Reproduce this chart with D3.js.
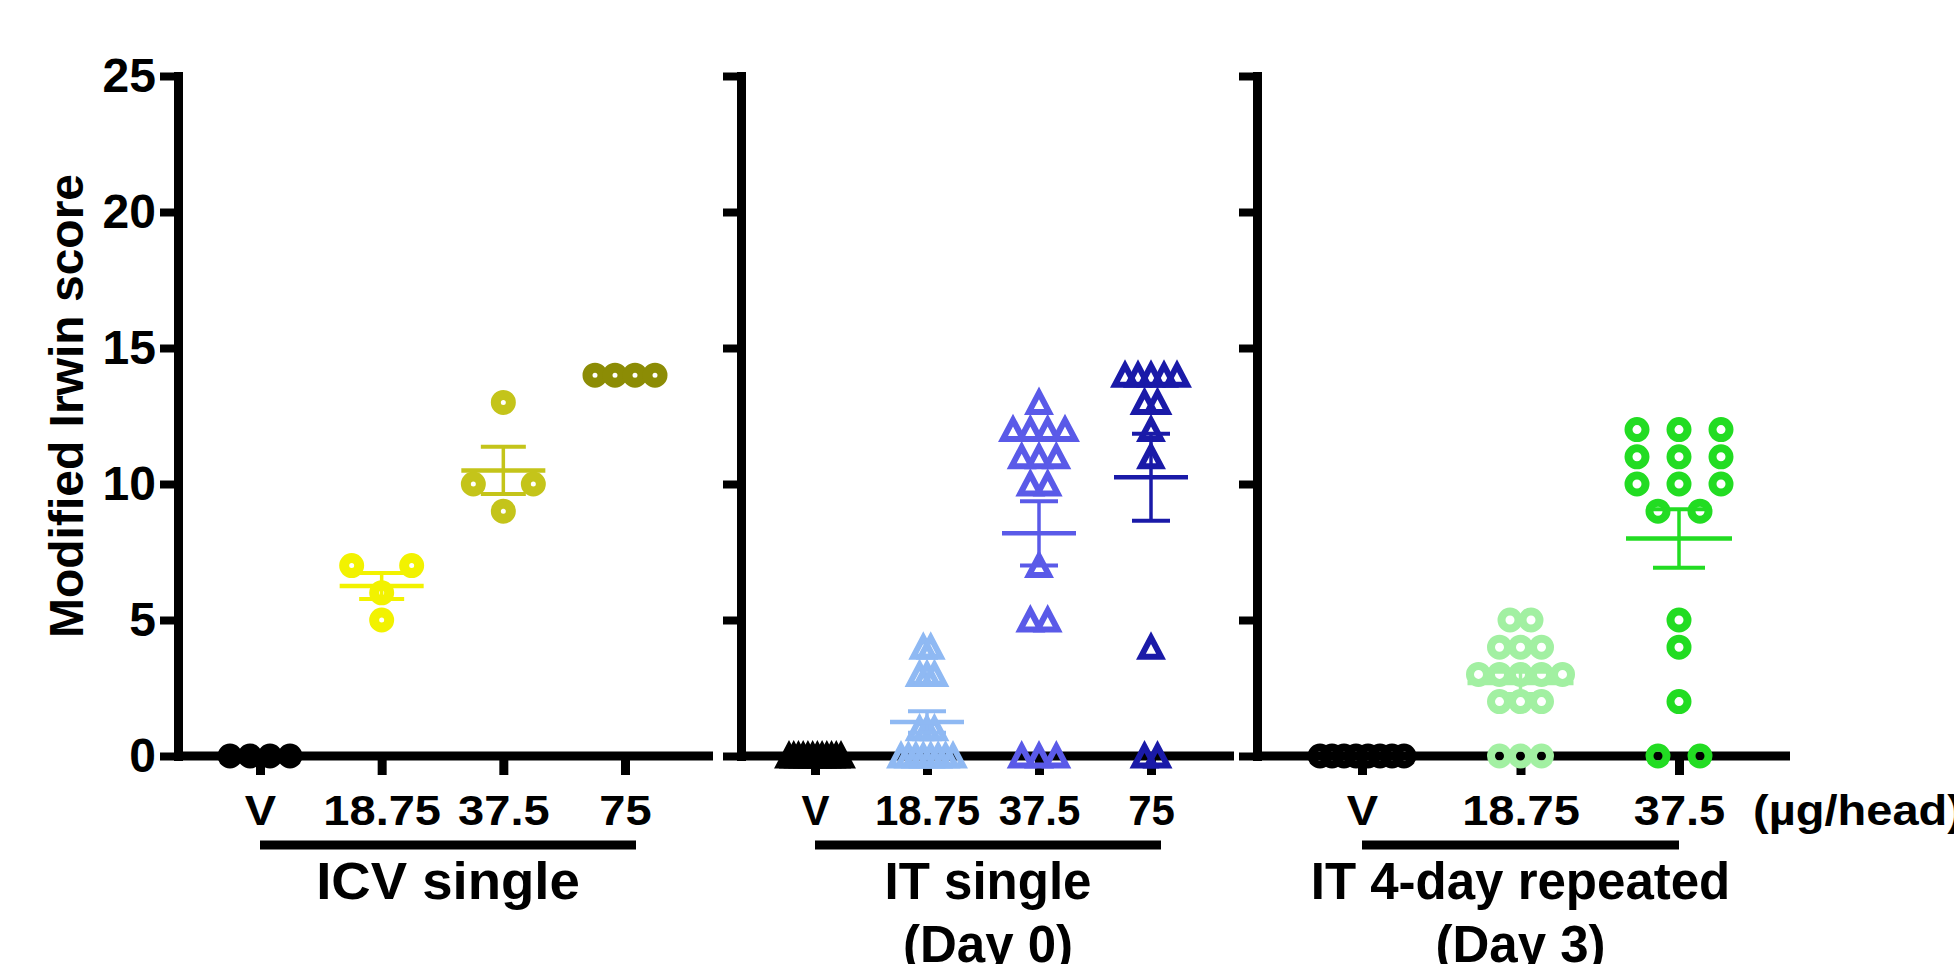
<!DOCTYPE html>
<html><head><meta charset="utf-8">
<script src="https://cdn.jsdelivr.net/npm/d3@7"></script>
<style>
html,body{margin:0;padding:0;background:#fff;}
svg{display:block;}
text{font-family:"Liberation Sans",Arial,Helvetica,sans-serif;font-weight:bold;fill:#000;}
</style>
</head><body>
<svg id="chart" width="1954" height="964"></svg>
<script>
// ---------- data ----------
const yTickValues = [0, 5, 10, 15, 20, 25];
const yTitle = "Modified Irwin score";
const unitLabel = "(µg/head)";

const icvCategories = ["V", "18.75", "37.5", "75"];
const icvV    = [0, 0, 0, 0];
const icv1875 = [7, 7, 6, 5];
const icv375  = [13, 10, 10, 9];
const icv75   = [14, 14, 14, 14];
const icvTitle = ["ICV single"];

const itCategories = ["V", "18.75", "37.5", "75"];
const itV    = [0, 0, 0, 0, 0, 0, 0, 0, 0, 0, 0, 0];
const it1875 = [4, 4, 3, 3, 3, 1, 1, 1, 0, 0, 0, 0, 0, 0, 0, 0];
const it375  = [13, 12, 12, 12, 12, 11, 11, 11, 10, 10, 7, 5, 5, 0, 0, 0];
const it75   = [14, 14, 14, 14, 14, 13, 13, 12, 11, 4, 0, 0];
const itTitle = ["IT single", "(Day 0)"];

const repCategories = ["V", "18.75", "37.5"];
const repV    = [0, 0, 0, 0, 0, 0, 0, 0];
const rep1875 = [5, 5, 4, 4, 4, 3, 3, 3, 3, 3, 2, 2, 2, 0, 0, 0];
const rep375  = [12, 12, 12, 11, 11, 11, 10, 10, 10, 9, 9, 5, 4, 2, 0, 0];
const repTitle = ["IT 4-day repeated", "(Day 3)"];

// ---------- layout / style ----------
const svg = d3.select("#chart");
svg.append("rect").attr("width", 1954).attr("height", 964).attr("fill", "#fff");

const y = d3.scaleLinear().domain([0, 25]).range([756, 76]);
const AXW = 9;
const FONT = '"Liberation Sans",Arial,Helvetica,sans-serif';

const panels = [
  { cats: icvCategories, groups: [icvV, icv1875, icv375, icv75], title: icvTitle,
    colors: ["#000000", "#f2f200", "#c4c41a", "#8c8c05"], shape: "circle", r: 7.5, sw: 10,
    yAxisX: 178, axisEnd: 713, xr: [260, 625], maxSpan: 60, sMax: 60,
    meanW: 84, capW: 45, barExt: 11, yLabels: true, tickStretch: 1.12, titleStretch: 1.07 },
  { cats: itCategories, groups: [itV, it1875, it375, it75], title: itTitle,
    colors: ["#000000", "#8fb9f3", "#5a5ae8", "#1a1aa8"], shape: "triangle", r: 0, sw: 6,
    yAxisX: 741, axisEnd: 1234, xr: [815, 1151], maxSpan: 52, sMax: 18,
    meanW: 74, capW: 38, barExt: 10, yLabels: false, tickStretch: 1.0, titleStretch: 1.0 },
  { cats: repCategories, groups: [repV, rep1875, rep375], title: repTitle,
    colors: ["#000000", "#a2f0a2", "#22dc22"], shape: "circle", r: 8.5, sw: 8,
    yAxisX: 1257, axisEnd: 1790, xr: [1362, 1679], maxSpan: 84, sMax: 43,
    meanW: 106, capW: 52, barExt: 0, yLabels: false, tickStretch: 1.12, titleStretch: 1.0 }
];

function arrange(vals, maxSpan, sMax) {
  const rows = d3.group(vals, v => v);
  const kmax = d3.max(Array.from(rows.values(), r => r.length));
  const s = kmax > 1 ? Math.min(sMax, maxSpan / (kmax - 1)) : 0;
  const pts = [];
  for (const [v, arr] of rows) {
    const k = arr.length;
    arr.forEach((_, i) => pts.push({ v: v, dx: (i - (k - 1) / 2) * s }));
  }
  return pts;
}

const triPath = (() => {
  const w = 20, h = 19;
  return `M0,${-h / 2}L${w / 2},${h / 2}L${-w / 2},${h / 2}Z`;
})();

panels.forEach(p => {
  const g = svg.append("g");
  const x = d3.scalePoint().domain(p.cats).range(p.xr);

  // y axis
  const ya = d3.axisLeft(y).tickValues(yTickValues).tickSize(18).tickSizeOuter(0)
    .tickPadding(4).tickFormat(p.yLabels ? d3.format("d") : () => "");
  const yg = g.append("g").attr("transform", `translate(${p.yAxisX},0)`).call(ya);
  yg.select(".domain").attr("stroke", "#000").attr("stroke-width", AXW).attr("stroke-linecap", "square");
  yg.selectAll(".tick line").attr("stroke", "#000").attr("stroke-width", 8);
  yg.selectAll(".tick text").attr("font-size", 48).attr("fill", "#000")
    .style("font-family", FONT).style("font-weight", "bold");

  // x axis baseline
  g.append("line").attr("x1", p.yAxisX).attr("x2", p.axisEnd)
    .attr("y1", y(0)).attr("y2", y(0)).attr("stroke", "#000").attr("stroke-width", AXW);

  // x axis ticks + labels
  const xa = d3.axisBottom(x).tickSize(19).tickSizeOuter(0).tickPadding(20);
  const xg = g.append("g").attr("transform", `translate(0,${y(0)})`).call(xa);
  xg.select(".domain").remove();
  xg.selectAll(".tick line").attr("stroke", "#000").attr("stroke-width", AXW);
  xg.selectAll(".tick text").attr("font-size", 42).attr("fill", "#000")
    .attr("transform", `scale(${p.tickStretch},1)`)
    .style("font-family", FONT).style("font-weight", "bold");

  // points
  p.groups.forEach((vals, gi) => {
    const cx = x(p.cats[gi]);
    const col = p.colors[gi];
    const pts = arrange(vals, p.maxSpan, p.sMax);
    const tag = p.shape === "circle" ? "circle" : "path";
    const sel = g.append("g").selectAll(tag).data(pts).join(tag);
    if (p.shape === "circle") {
      sel.attr("cx", d => cx + d.dx).attr("cy", d => y(d.v)).attr("r", p.r)
        .attr("fill", "none").attr("stroke", col).attr("stroke-width", p.sw);
    } else {
      sel.attr("d", triPath).attr("transform", d => `translate(${cx + d.dx},${y(d.v)})`)
        .attr("fill", "none").attr("stroke", col).attr("stroke-width", p.sw)
        .attr("stroke-linejoin", "miter");
    }
  });

  // mean ± SEM
  p.groups.forEach((vals, gi) => {
    const sd = d3.deviation(vals) || 0;
    if (sd === 0) return;
    const cx = x(p.cats[gi]);
    const col = p.colors[gi];
    const m = d3.mean(vals);
    const sem = sd / Math.sqrt(vals.length);
    const eg = g.append("g").attr("stroke", col);
    eg.append("line").attr("x1", cx).attr("x2", cx).attr("y1", y(m + sem)).attr("y2", y(m - sem))
      .attr("stroke-width", 3.5);
    eg.append("line").attr("x1", cx - p.capW / 2).attr("x2", cx + p.capW / 2)
      .attr("y1", y(m + sem)).attr("y2", y(m + sem)).attr("stroke-width", 4);
    eg.append("line").attr("x1", cx - p.capW / 2).attr("x2", cx + p.capW / 2)
      .attr("y1", y(m - sem)).attr("y2", y(m - sem)).attr("stroke-width", 4);
    eg.append("line").attr("x1", cx - p.meanW / 2).attr("x2", cx + p.meanW / 2)
      .attr("y1", y(m)).attr("y2", y(m)).attr("stroke-width", 4.5);
  });

  // group underline + title
  const bx1 = x(p.cats[0]), bx2 = x(p.cats[p.cats.length - 1]) + p.barExt;
  g.append("line").attr("x1", bx1).attr("x2", bx2).attr("y1", 845).attr("y2", 845)
    .attr("stroke", "#000").attr("stroke-width", AXW);
  p.title.forEach((t, i) => {
    g.append("text")
      .attr("transform", `translate(${(bx1 + bx2) / 2},${899 + i * 63}) scale(${p.titleStretch},1)`)
      .attr("text-anchor", "middle").attr("font-size", 51).text(t);
  });
});

// y-axis title
svg.append("text").attr("transform", "translate(83,406) rotate(-90)")
  .attr("text-anchor", "middle").attr("font-size", 48).text(yTitle);

// unit label
svg.append("text").attr("transform", "translate(1753,825) scale(1.12,1)")
  .attr("font-size", 42).text(unitLabel);
</script>
</body></html>
